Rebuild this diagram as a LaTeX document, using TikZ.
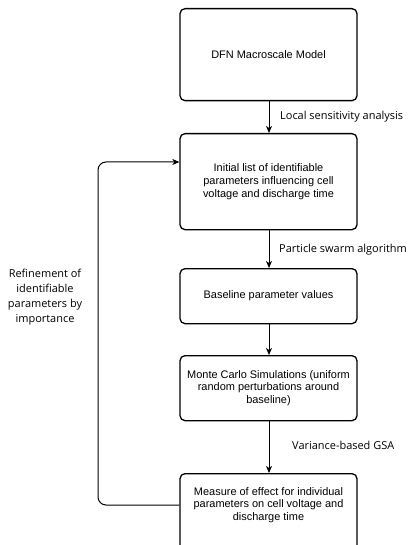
\documentclass[tikz,border=0pt]{standalone}
\usepackage{fontspec}
\setmainfont{Liberation Sans}
\newfontfamily\labelfont{Open Sans}
\usetikzlibrary{arrows.meta}
\begin{document}
\begin{tikzpicture}[x=1bp,y=-1bp,
  stagebox/.style={draw,line width=1.3bp,rounded corners=5bp,minimum width=177bp,inner sep=0pt,align=center,font=\fontsize{11}{12.6}\selectfont,anchor=north},
  lbl/.style={font=\labelfont\fontsize{11}{15}\selectfont,inner sep=0pt},
  flow/.style={line width=1bp,-{Stealth[length=7bp,width=6bp,inset=2bp]}}]
\useasboundingbox (0,0) rectangle (414,545);
\begin{scope}
\clip (0,0) rectangle (414,545);
\node[stagebox,minimum height=92bp] (b1) at (268.5,8) {DFN Macroscale Model};
\node[stagebox,minimum height=96bp] (b2) at (268.5,133) {Initial list of identifiable\\parameters influencing cell\\voltage and discharge time};
\node[stagebox,minimum height=55bp] (b3) at (268.5,268) {Baseline parameter values};
\node[stagebox,minimum height=65bp] (b4) at (268.5,355) {Monte Carlo Simulations (uniform\\random perturbations around\\baseline)};
\node[draw,line width=1.3bp,rounded corners=5bp,minimum width=177bp,minimum height=80bp,anchor=north] (b5) at (268.5,473) {};
\node[align=center,inner sep=0pt,font=\fontsize{11}{12.6}\selectfont] (t5) at (268.5,505) {Measure of effect for individual\\parameters on cell voltage and\\discharge time};
\end{scope}
\draw[flow] (b1.south -| 269,0) -- (b2.north -| 269,0);
\draw[flow] (b2.south -| 269,0) -- (b3.north -| 269,0);
\draw[flow] (b3.south -| 269,0) -- (b4.north -| 269,0);
\draw[flow] (b4.south -| 269,0) -- (b5.north -| 269,0);
\coordinate (lb) at (98,505);
\coordinate (lt) at (98,162);
\draw[flow,rounded corners=8bp] (b5.west |- 0,505) -- (lb) -- (lt) -- (b2.west |- 0,162);
\node[lbl,anchor=west] (l1) at (280,117) {Local sensitivity analysis};
\node[lbl,anchor=west] (l2) at (279,250) {Particle swarm algorithm};
\node[lbl,anchor=west] (l3) at (292,445) {Variance-based GSA};
\node[lbl,align=center] (l4) at (45,297) {Refinement of\\identifiable\\parameters by\\importance};
\end{tikzpicture}
\end{document}
